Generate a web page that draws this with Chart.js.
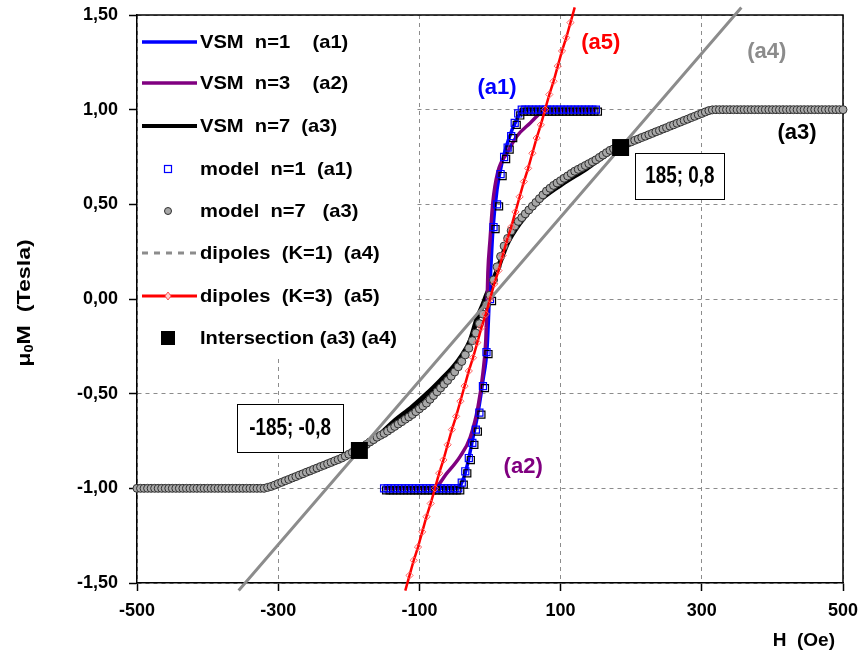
<!DOCTYPE html>
<html>
<head>
<meta charset="utf-8">
<script src="https://cdn.jsdelivr.net/npm/chart.js@4.4.1/dist/chart.umd.min.js"></script>
<style>
html,body{margin:0;padding:0;background:#fff;}
#wrap{width:860px;height:661px;}
</style>
</head>
<body>
<div id="wrap"><canvas id="hyst" width="860" height="661"></canvas></div>
<script>
// ---- axes ----
const xTicks = [-500,-300,-100,100,300,500];
const yTicks = [-1.5,-1,-0.5,0,0.5,1,1.5];

// ---- VSM n=1 (a1) ----
const vsm1H = [-150,-47,-40,-33,-24,-17,-10,-4,-1,1,4,10,17,26,38,47,150];
const vsm1M = [-1,-1,-0.97,-0.89,-0.73,-0.60,-0.43,-0.25,0,0.15,0.36,0.58,0.72,0.84,0.95,1,1];

// ---- VSM n=3 (a2) ----
const vsm3H = [-150,-80,-61,-42,-28,-17,-10,-6,-4,-3,0,4,11,24,38,57,74,80,150];
const vsm3M = [-1,-1,-0.92,-0.83,-0.73,-0.57,-0.39,-0.22,0,0.14,0.31,0.51,0.67,0.77,0.86,0.93,0.99,1,1];

// ---- VSM n=7 (a3) ----
const vsm7H = [-185,-160,-137,-110,-89,-70,-52,-40,-28,-18,-10,-5,0,10,24,42,67,99,137,160,185];
const vsm7M = [-0.80,-0.73,-0.65,-0.57,-0.50,-0.43,-0.36,-0.30,-0.22,-0.10,-0.03,0.02,0.06,0.15,0.29,0.40,0.51,0.60,0.69,0.75,0.81];

// ---- model n=1 (a1) ----
const mod1H = [-150,-145,-140,-135,-130,-125,-120,-115,-110,-105,-100,-95,-90,-85,-80,-75,-70,-65,-60,-55,-50,-45,
  -40,-35,-30,-25,-20,-15,-10,-5,0,5,10,15,20,25,30,35,40,
  45,50,55,60,65,70,75,80,85,90,95,100,105,110,115,120,125,130,135,140,145,150];
const mod1M = [-1,-1,-1,-1,-1,-1,-1,-1,-1,-1,-1,-1,-1,-1,-1,-1,-1,-1,-1,-1,-1,-1,
  -0.97,-0.91,-0.84,-0.76,-0.69,-0.60,-0.46,-0.28,0,0.38,0.50,0.66,0.75,0.80,0.86,0.93,0.98,
  1,1,1,1,1,1,1,1,1,1,1,1,1,1,1,1,1,1,1,1,1,1];

// ---- model n=7 (a3) ----
const mod7H = [
  -500,-495,-490,-485,-480,-475,-470,-465,-460,-455,-450,-445,-440,-435,-430,-425,-420,-415,-410,-405,
  -400,-395,-390,-385,-380,-375,-370,-365,-360,-355,-350,-345,-340,-335,-330,-325,-320,
  -315,-310,-305,-300,-295,-290,-285,-280,-275,-270,-265,-260,-255,-250,-245,-240,-235,-230,-225,-220,
  -215,-210,-205,-200,-195,-190,-185,-180,-175,-170,-165,-160,-155,-150,-145,-140,-135,-130,-125,-120,
  -115,-110,-105,-100,-95,-90,-85,-80,-75,-70,-65,-60,-55,-50,-45,-40,-35,-30,-25,-20,-15,-10,-5,
  0,5,10,15,20,25,30,35,40,45,50,55,60,65,70,75,80,85,90,95,100,105,110,115,
  120,125,130,135,140,145,150,155,160,165,170,175,180,185,190,195,200,205,210,215,
  220,225,230,235,240,245,250,255,260,265,270,275,280,285,290,295,300,305,310,315,
  320,325,330,335,340,345,350,355,360,365,370,375,380,385,390,395,400,405,410,415,
  420,425,430,435,440,445,450,455,460,465,470,475,480,485,490,495,500];
const mod7M = [
  -1,-1,-1,-1,-1,-1,-1,-1,-1,-1,-1,-1,-1,-1,-1,-1,-1,-1,-1,-1,
  -1,-1,-1,-1,-1,-1,-1,-1,-1,-1,-1,-1,-1,-1,-1,-1,-1,
  -0.995,-0.99,-0.983,-0.975,-0.968,-0.96,-0.953,-0.945,-0.938,-0.93,-0.923,-0.915,-0.908,-0.90,-0.893,-0.885,-0.878,-0.87,-0.863,-0.855,
  -0.848,-0.84,-0.83,-0.82,-0.81,-0.80,-0.79,-0.78,-0.768,-0.755,-0.743,-0.73,-0.72,-0.71,-0.698,-0.685,-0.673,-0.66,-0.648,-0.635,
  -0.623,-0.61,-0.595,-0.58,-0.565,-0.55,-0.53,-0.51,-0.49,-0.47,-0.45,-0.43,-0.408,-0.385,-0.358,-0.33,-0.295,-0.26,-0.22,-0.18,-0.13,-0.08,-0.03,
  0.02,0.10,0.17,0.225,0.28,0.32,0.36,0.385,0.41,0.43,0.45,0.47,0.49,0.51,0.53,0.55,0.57,0.585,0.60,0.613,0.625,0.638,0.65,0.663,
  0.675,0.685,0.695,0.705,0.715,0.725,0.735,0.748,0.76,0.773,0.785,0.793,0.80,0.808,0.815,0.823,0.83,0.838,0.845,0.853,
  0.86,0.868,0.875,0.883,0.89,0.898,0.905,0.913,0.92,0.928,0.935,0.943,0.95,0.958,0.965,0.973,0.98,0.988,0.995,0.999,
  1,1,1,1,1,1,1,1,1,1,1,1,1,1,1,1,1,1,1,1,
  1,1,1,1,1,1,1,1,1,1,1,1,1,1,1,1,1];

// ---- dipoles K=1 (a4) ----
const dipK1H = [-356,0,356];
const dipK1M = [-1.54,0,1.54];

// ---- dipoles K=3 (a5) ----
const dipK3H = [-120,-114,-108,-102,-96,-90,-84,-78,-72,-66,-60,-54,-48,-42,-36,-30,-24,-18,-12,-6,0,
  6,12,18,24,30,36,42,48,54,60,66,72,78,84,90,96,102,108,114,120];
const dipK3M = [-1.54,-1.46,-1.38,-1.31,-1.23,-1.15,-1.08,-1.00,-0.92,-0.85,-0.77,-0.69,-0.62,-0.54,-0.46,-0.38,-0.31,-0.23,-0.15,-0.08,0,
  0.08,0.15,0.23,0.31,0.38,0.46,0.54,0.62,0.69,0.77,0.85,0.92,1.00,1.08,1.15,1.23,1.31,1.38,1.46,1.54];

// ---- intersection (a3) (a4) ----
const interH = [-185,185];
const interM = [-0.8,0.8];

const FONT = '"Liberation Sans", Arial, Helvetica, sans-serif';

function pts(hs, ms){ return hs.map((h,i)=>({x:h, y:ms[i]})); }

// legend entries : text + how to draw the sample
const legendItems = [
  {text:'VSM  n=1    (a1)',      kind:'line',   color:'#0000ff', width:3.5},
  {text:'VSM  n=3    (a2)',      kind:'line',   color:'#800080', width:3.5},
  {text:'VSM  n=7  (a3)',        kind:'line',   color:'#000000', width:4},
  {text:'model  n=1  (a1)',      kind:'square', color:'#0000ff'},
  {text:'model  n=7   (a3)',     kind:'dot',    color:'#a8a8a8'},
  {text:'dipoles  (K=1)  (a4)',  kind:'dash',   color:'#8c8c8c', width:3},
  {text:'dipoles  (K=3)  (a5)',  kind:'redline',color:'#ff0000', width:3},
  {text:'Intersection (a3) (a4)',kind:'block',  color:'#000000'}
];

function drawLegend(ctx, area){
  ctx.save();
  ctx.fillStyle = '#fff';
  ctx.fillRect(area.left+1, area.top+1, 416-area.left, 355-area.top);
  const ys = [42,83,126,169,211,253,296,338];
  legendItems.forEach((it,i)=>{
    const y = ys[i];
    ctx.save();
    if(it.kind==='line' || it.kind==='dash' || it.kind==='redline'){
      ctx.strokeStyle = it.color; ctx.lineWidth = it.width;
      ctx.setLineDash(it.kind==='dash' ? [6,6] : []);
      ctx.beginPath(); ctx.moveTo(142,y); ctx.lineTo(197,y); ctx.stroke();
      if(it.kind==='redline'){
        ctx.setLineDash([]); ctx.lineWidth=1; ctx.strokeStyle='#ff5050'; ctx.fillStyle='#ffd0d0';
        ctx.beginPath(); ctx.moveTo(168,y-4); ctx.lineTo(171,y); ctx.lineTo(168,y+4); ctx.lineTo(165,y); ctx.closePath();
        ctx.fill(); ctx.stroke();
      }
    } else if(it.kind==='square'){
      ctx.strokeStyle = it.color; ctx.lineWidth = 1.2;
      ctx.strokeRect(164.5, y-3.5, 7, 7);
    } else if(it.kind==='dot'){
      ctx.fillStyle = it.color; ctx.strokeStyle = '#303030'; ctx.lineWidth = 1;
      ctx.beginPath(); ctx.arc(168, y, 3.5, 0, Math.PI*2); ctx.fill(); ctx.stroke();
    } else if(it.kind==='block'){
      ctx.fillStyle = it.color; ctx.fillRect(161, y-7, 14, 14);
    }
    ctx.restore();
    ctx.save();
    ctx.translate(200, y);
    ctx.scale(1.06, 1);
    ctx.fillStyle = '#000';
    ctx.font = 'bold 19px '+FONT;
    ctx.textBaseline = 'middle';
    ctx.fillText(it.text, 0, 1);
    ctx.restore();
  });
  ctx.restore();
}

function drawNotes(chart){
  const ctx = chart.ctx, sx = chart.scales.x, sy = chart.scales.y;
  const labels = [
    {t:'(a1)', c:'#0000ff', h:10,  m:1.12},
    {t:'(a5)', c:'#ff0000', h:157, m:1.36},
    {t:'(a4)', c:'#8c8c8c', h:392, m:1.31},
    {t:'(a3)', c:'#000000', h:435, m:0.88},
    {t:'(a2)', c:'#800080', h:47,  m:-0.88}
  ];
  ctx.save();
  ctx.font = 'bold 22px '+FONT;
  ctx.textAlign = 'center'; ctx.textBaseline = 'middle';
  labels.forEach(l=>{
    ctx.fillStyle = l.c;
    ctx.fillText(l.t, sx.getPixelForValue(l.h), sy.getPixelForValue(l.m)+1);
  });
  // value boxes
  const boxes = [
    {t:'185; 0,8',   h:269,  m:0.65,  w:89,  hgt:46},
    {t:'-185; -0,8', h:-283, m:-0.68, w:106, hgt:48}
  ];
  boxes.forEach(b=>{
    const cx = sx.getPixelForValue(b.h), cy = sy.getPixelForValue(b.m);
    ctx.fillStyle = '#fff'; ctx.strokeStyle = '#000'; ctx.lineWidth = 1;
    ctx.fillRect(cx-b.w/2, cy-b.hgt/2, b.w, b.hgt);
    ctx.strokeRect(Math.round(cx-b.w/2)+0.5, Math.round(cy-b.hgt/2)+0.5, b.w, b.hgt);
    ctx.save();
    ctx.translate(cx, cy+1);
    ctx.scale(0.82, 1);
    ctx.fillStyle = '#000';
    ctx.font = 'bold 23px '+FONT;
    ctx.fillText(b.t, 0, 0);
    ctx.restore();
  });
  ctx.restore();
}

function drawTitles(chart){
  const ctx = chart.ctx;
  ctx.save();
  ctx.fillStyle = '#000';
  ctx.font = 'bold 19px '+FONT;
  ctx.textAlign = 'right'; ctx.textBaseline = 'middle';
  ctx.fillText('H  (Oe)', 835, 641);
  // y title, rotated, with subscript 0
  ctx.translate(25, 303);
  ctx.rotate(-Math.PI/2);
  ctx.scale(1.22, 1);
  ctx.textAlign = 'left';
  const big = 'bold 19px '+FONT, small = 'bold 12px '+FONT;
  ctx.font = big;  const w1 = ctx.measureText('\u03bc').width;
  ctx.font = small; const w2 = ctx.measureText('0').width;
  ctx.font = big;  const w3 = ctx.measureText('M  (Tesla)').width;
  let x = -(w1+w2+w3)/2;
  ctx.font = big;   ctx.fillText('\u03bc', x, 0); x += w1;
  ctx.font = small; ctx.fillText('0', x, 5); x += w2;
  ctx.font = big;   ctx.fillText('M  (Tesla)', x, 0);
  ctx.restore();
}

const extras = {
  id:'extras',
  beforeDatasetsDraw(chart){
    const a = chart.chartArea, ctx = chart.ctx;
    ctx.save();
    ctx.strokeStyle = '#000'; ctx.lineWidth = 1.5;
    ctx.beginPath();
    ctx.moveTo(a.left, a.top); ctx.lineTo(a.right, a.top); ctx.lineTo(a.right, a.bottom);
    ctx.stroke();
    ctx.restore();
  },
  beforeDatasetDraw(chart, args){
    if(args.index===3){
      const ctx = chart.ctx;
      ctx.save();
      ctx.shadowColor = '#000'; ctx.shadowBlur = 0;
      ctx.shadowOffsetX = 2; ctx.shadowOffsetY = 2;
    }
  },
  afterDatasetDraw(chart, args){
    if(args.index===3) chart.ctx.restore();
  },
  afterDatasetsDraw(chart){
    drawLegend(chart.ctx, chart.chartArea);
    drawNotes(chart);
    drawTitles(chart);
  }
};

const tickFont = {family:FONT, size:18, weight:'bold'};

new Chart(document.getElementById('hyst'), {
  type:'line',
  data:{
    datasets:[
      {label:'VSM  n=1    (a1)', data:pts(vsm1H,vsm1M), borderColor:'#0000ff', borderWidth:3.5,
       pointRadius:0, cubicInterpolationMode:'monotone', fill:false, clip:false, order:6},
      {label:'VSM  n=3    (a2)', data:pts(vsm3H,vsm3M), borderColor:'#800080', borderWidth:3.5,
       pointRadius:0, cubicInterpolationMode:'monotone', fill:false, clip:false, order:5},
      {label:'VSM  n=7  (a3)', data:pts(vsm7H,vsm7M), borderColor:'#000000', borderWidth:5,
       pointRadius:0, cubicInterpolationMode:'monotone', fill:false, clip:false, order:7},
      {label:'model  n=1  (a1)', data:pts(mod1H,mod1M), showLine:false, pointStyle:'rect', pointRadius:5,
       pointBorderColor:'#0000ff', pointBackgroundColor:'rgba(255,255,255,0)', pointBorderWidth:1.2, clip:false, order:4},
      {label:'model  n=7   (a3)', data:pts(mod7H,mod7M), showLine:false, pointStyle:'circle', pointRadius:4,
       pointBorderColor:'#303030', pointBackgroundColor:'#a8a8a8', pointBorderWidth:1, clip:false, order:3},
      {label:'dipoles  (K=1)  (a4)', data:pts(dipK1H,dipK1M), borderColor:'#8c8c8c', borderWidth:3,
       pointRadius:0, fill:false, clip:false, order:2},
      {label:'dipoles  (K=3)  (a5)', data:pts(dipK3H,dipK3M), borderColor:'#ff0000', borderWidth:2.5,
       pointStyle:'rectRot', pointRadius:3.6, pointBorderColor:'#ff6060', pointBackgroundColor:'rgba(255,255,255,0)',
       pointBorderWidth:1, fill:false, clip:false, order:1},
      {label:'Intersection (a3) (a4)', data:pts(interH,interM), showLine:false, pointStyle:'rect', pointRadius:12,
       pointBackgroundColor:'#000', pointBorderColor:'#000', pointBorderWidth:0, clip:false, order:0}
    ]
  },
  options:{
    responsive:false, animation:false, devicePixelRatio:1,
    layout:{padding:{top:15, right:17, bottom:0, left:0}},
    plugins:{legend:{display:false}, tooltip:{enabled:false}},
    scales:{
      x:{
        type:'linear', min:-500, max:500,
        afterBuildTicks:s=>{ s.ticks = xTicks.map(v=>({value:v})); },
        afterFit:s=>{ s.height = 78; s.paddingLeft = 0; s.paddingRight = 0; },
        grid:{color:'#8c8c8c', lineWidth:1, tickColor:'#000', tickLength:8, tickWidth:1.5},
        border:{display:true, color:'#000', width:1.5, dash:[4,4]},
        ticks:{color:'#000', font:tickFont, padding:9, maxRotation:0, autoSkip:false,
               callback:v=>String(v)}
      },
      y:{
        type:'linear', min:-1.5, max:1.5,
        afterBuildTicks:s=>{ s.ticks = yTicks.map(v=>({value:v})); },
        afterFit:s=>{ s.width = 137; s.paddingTop = 0; s.paddingBottom = 0; },
        grid:{color:'#8c8c8c', lineWidth:1, tickColor:'#000', tickLength:8, tickWidth:1.5},
        border:{display:true, color:'#000', width:1.5, dash:[4,4]},
        ticks:{color:'#000', font:tickFont, padding:11, autoSkip:false,
               callback:v=>v.toFixed(2).replace('.',',')}
      }
    }
  },
  plugins:[extras]
});
</script>
</body>
</html>
